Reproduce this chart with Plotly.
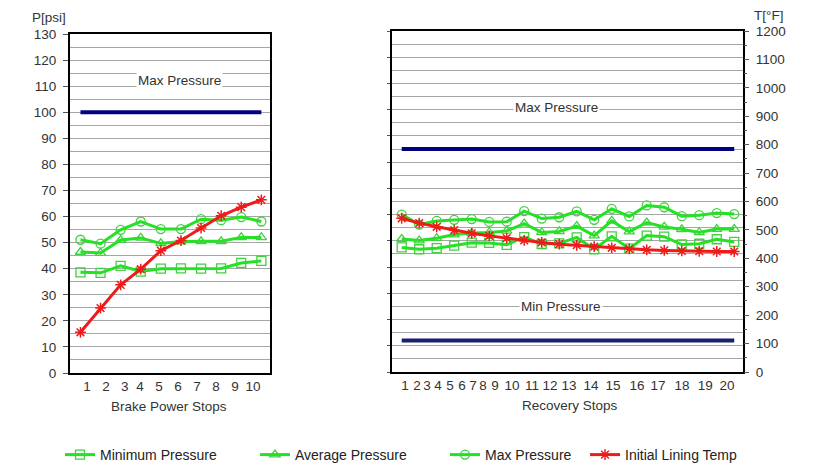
import plotly.graph_objects as go

# ---------------- data ----------------
brake_stops = [1, 2, 3, 4, 5, 6, 7, 8, 9, 10]
brake_min = [38.6, 38.4, 41.1, 38.9, 40.0, 40.1, 40.0, 40.1, 42.2, 43.0]
brake_avg = [46.4, 46.0, 51.0, 51.8, 49.7, 50.4, 50.5, 50.5, 52.0, 52.0]
brake_max = [51.1, 49.6, 54.9, 58.1, 55.2, 55.2, 59.0, 58.6, 59.8, 58.1]
brake_temp = [15.6, 24.9, 33.8, 39.8, 46.9, 50.8, 55.6, 60.3, 63.6, 66.4]
brake_max_limit = [100] * 10

recovery_stops = list(range(1, 21))
recovery_min = [47.5, 46.8, 47.2, 48.2, 49.3, 49.2, 48.5, 51.4, 48.8, 49.0,
                51.3, 46.8, 51.7, 47.0, 52.0, 51.6, 48.6, 48.9, 50.6, 49.6]
recovery_avg = [50.7, 50.1, 51.0, 52.4, 53.0, 53.2, 53.8, 56.6, 53.2, 53.6,
                55.6, 52.0, 57.6, 53.5, 57.0, 55.3, 54.4, 53.2, 54.5, 54.5]
recovery_max = [60.0, 56.2, 57.6, 58.0, 58.3, 57.2, 57.3, 61.3, 58.5, 59.0,
                61.2, 58.0, 62.2, 59.3, 63.5, 62.8, 59.4, 59.8, 60.6, 60.2]
recovery_temp = [541, 524, 511, 499, 488, 479, 471, 463, 456, 450,
                 446, 441, 437, 433, 430, 428, 426, 425, 424, 424]
recovery_max_limit = [85] * 20
recovery_min_limit = [12] * 20

brake_tick_labels = ["1", "2", "3", "4", "5", "6", "7", "8", "9", "10"]
brake_tick_pos = [1.32, 2.27, 3.21, 3.96, 4.91, 5.85, 6.80, 7.74, 8.69, 9.58]
recovery_tick_labels = [str(i) for i in range(1, 21)]
recovery_tick_pos = [1.19, 1.87, 2.45, 3.07, 3.76, 4.45, 5.07, 5.65, 6.33, 7.30,
                     8.45, 9.47, 10.56, 11.82, 13.07, 14.45, 15.65, 17.02, 18.34, 19.59]

# ---------------- style ----------------
W, H = 813, 472
GREEN = "#22e322"
MARK_GREEN = "#3fd13f"
RED = "#ee1b1b"
NAVY = "#000080"
GRID = "#a6a6a6"
TXT = "#333333"
FONT = "Liberation Sans, Arial, sans-serif"
FS = 13.5


def px(x):
    return x / W


def py(y):
    return 1 - y / H


fig = go.Figure()

green_series = [
    ("Minimum Pressure", "square-open", brake_min, recovery_min, "legend"),
    ("Average Pressure", "triangle-up-open", brake_avg, recovery_avg, "legend2"),
    ("Max Pressure", "circle-open", brake_max, recovery_max, "legend3"),
]

# Left panel
fig.add_trace(go.Scatter(x=brake_stops, y=brake_max_limit, mode="lines",
                         line=dict(color=NAVY, width=4), showlegend=False,
                         xaxis="x", yaxis="y", hoverinfo="skip"))
for name, sym, yl, yr, lg in green_series:
    fig.add_trace(go.Scatter(
        x=brake_stops, y=yl, mode="lines+markers", name=name,
        line=dict(color=GREEN, width=3),
        marker=dict(symbol=sym, size=9, color=MARK_GREEN, line=dict(width=1.3, color=MARK_GREEN)),
        xaxis="x", yaxis="y", showlegend=True, legend=lg))
fig.add_trace(go.Scatter(
    x=brake_stops, y=brake_temp, mode="lines+markers", name="Initial Lining Temp",
    line=dict(color=RED, width=3),
    marker=dict(symbol="asterisk-open", size=9, color=RED, line=dict(width=1.5, color=RED)),
    xaxis="x", yaxis="y", showlegend=True, legend="legend4"))

# Right panel
fig.add_trace(go.Scatter(x=recovery_stops, y=recovery_max_limit, mode="lines",
                         line=dict(color=NAVY, width=4), showlegend=False,
                         xaxis="x2", yaxis="y2", hoverinfo="skip"))
fig.add_trace(go.Scatter(x=recovery_stops, y=recovery_min_limit, mode="lines",
                         line=dict(color="#1a1f6e", width=4), showlegend=False,
                         xaxis="x2", yaxis="y2", hoverinfo="skip"))
for name, sym, yl, yr, lg in green_series:
    fig.add_trace(go.Scatter(
        x=recovery_stops, y=yr, mode="lines+markers", name=name,
        line=dict(color=GREEN, width=3),
        marker=dict(symbol=sym, size=9, color=MARK_GREEN, line=dict(width=1.3, color=MARK_GREEN)),
        xaxis="x2", yaxis="y2", showlegend=False))
fig.add_trace(go.Scatter(
    x=recovery_stops, y=recovery_temp, mode="lines+markers", name="Initial Lining Temp",
    line=dict(color=RED, width=3),
    marker=dict(symbol="asterisk-open", size=9, color=RED, line=dict(width=1.5, color=RED)),
    xaxis="x2", yaxis="y3", showlegend=False))

left_x_dom = [px(70), px(270)]
left_y_dom = [py(373), py(34)]
right_x_dom = [px(392), px(743)]
right_y_dom = [py(372), py(31)]

tickfont = dict(family=FONT, size=FS, color=TXT)

legend_common = dict(orientation="h", yanchor="middle", xanchor="left",
                     font=dict(family=FONT, size=14, color="#222222"),
                     bgcolor="rgba(0,0,0,0)", borderwidth=0, itemwidth=30)

fig.update_layout(
    template="none",
    width=W, height=H, autosize=False,
    margin=dict(l=0, r=0, t=0, b=0, pad=0),
    paper_bgcolor="white", plot_bgcolor="white",
    font=dict(family=FONT, size=FS, color=TXT),
    xaxis=dict(domain=left_x_dom, anchor="y", range=[0.48, 10.43], automargin=False,
               tickmode="array", tickvals=brake_tick_pos, ticktext=brake_tick_labels,
               showgrid=False, zeroline=False, showline=True, mirror=True,
               linecolor="black", linewidth=2, ticks="", tickfont=tickfont),
    yaxis=dict(domain=left_y_dom, anchor="x", range=[0, 130], dtick=10, automargin=False,
               showgrid=True, gridcolor=GRID, gridwidth=1, zeroline=False,
               showline=True, mirror=True, linecolor="black", linewidth=2,
               ticks="outside", ticklen=5, tickcolor="#555555", tickfont=tickfont,
               ticklabelstandoff=4,
               minor=dict(dtick=5, showgrid=True, gridcolor=GRID, gridwidth=1)),
    xaxis2=dict(domain=right_x_dom, anchor="y2", range=[0.446, 20.5], automargin=False,
                tickmode="array", tickvals=recovery_tick_pos, ticktext=recovery_tick_labels,
                showgrid=False, zeroline=False, showline=True, mirror=True,
                linecolor="black", linewidth=2, ticks="", tickfont=tickfont),
    yaxis2=dict(domain=right_y_dom, anchor="x2", range=[0, 130], dtick=10, automargin=False,
                showgrid=True, gridcolor=GRID, gridwidth=1, zeroline=False,
                showline=True, mirror=True, linecolor="black", linewidth=2,
                ticks="outside", ticklen=3, tickcolor="#555555", showticklabels=False,
                minor=dict(dtick=5, showgrid=True, gridcolor=GRID, gridwidth=1)),
    yaxis3=dict(domain=right_y_dom, anchor="x2", overlaying="y2", side="right",
                range=[0, 1200], dtick=100, showgrid=False, zeroline=False, automargin=False,
                showline=False, ticks="outside", ticklen=5, tickcolor="#555555",
                tickfont=tickfont, ticklabelstandoff=4,
                minor=dict(dtick=50, ticks="outside", ticklen=3, tickcolor="#555555")),
    legend=dict(x=px(60), y=py(455), **legend_common),
    legend2=dict(x=px(255), y=py(455), **legend_common),
    legend3=dict(x=px(445), y=py(455), **legend_common),
    legend4=dict(x=px(585), y=py(455), **legend_common),
)

ann_font = dict(family=FONT, size=FS, color=TXT)
fig.add_annotation(x=5.95, y=112.3, xref="x", yref="y", text="Max Pressure",
                   showarrow=False, font=ann_font, bgcolor="white")
fig.add_annotation(x=9.87, y=101, xref="x2", yref="y2", text="Max Pressure",
                   showarrow=False, font=ann_font, bgcolor="white")
fig.add_annotation(x=10.1, y=24.8, xref="x2", yref="y2", text="Min Pressure",
                   showarrow=False, font=ann_font, bgcolor="white")
for txt, xx, yy in [("P[psi]", 49, 17), ("T[°F]", 768, 15),
                    ("Brake Power Stops", 169, 406), ("Recovery Stops", 570, 405)]:
    fig.add_annotation(x=px(xx), y=py(yy), xref="paper", yref="paper", text=txt,
                       xanchor="center", yanchor="middle",
                       showarrow=False, font=ann_font)

fig.write_html("out.html", config={"displayModeBar": False},
               post_script="document.body.style.margin='0';document.body.style.overflow='hidden';")
